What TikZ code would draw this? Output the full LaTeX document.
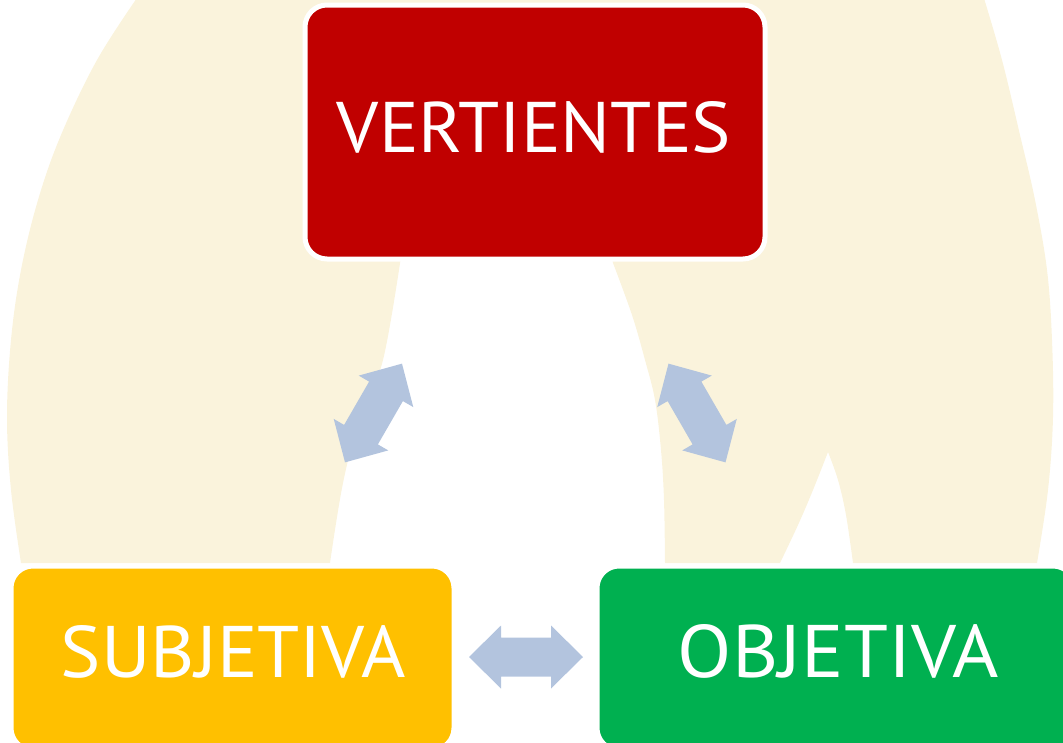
\documentclass[tikz,border=0pt]{standalone}
\usepackage{fontspec}
\setmainfont{PT Sans}
\usepackage{graphicx}
\definecolor{cream}{RGB}{250,243,220}
\definecolor{vred}{RGB}{192,0,0}
\definecolor{vyellow}{RGB}{255,192,0}
\definecolor{vgreen}{RGB}{0,176,80}
\definecolor{arrowc}{RGB}{179,196,222}
\begin{document}
\begin{tikzpicture}[x=1pt,y=-1pt,
  box/.style={rectangle, rounded corners=22pt, draw=white, line width=5pt, inner sep=0pt},
  lbl/.style={inner sep=0pt, text=white},
  blockarrow/.style={fill=arrowc}]
\useasboundingbox (0,0) rectangle (1063,742);
\clip (0,0) rectangle (1063,742);
% background circular band
\fill[cream] (139,-5)
  -- plot[smooth,tension=0.6] coordinates {(139,-5) (97,60) (61,135) (38,200) (21,270) (11,340) (7,417) (11,490) (21,563)}
  -- (330,563)
  -- plot[smooth,tension=0.6] coordinates {(330,563) (343,483) (360,417) (383,360) (402,250)}
  -- (430,140) -- (590,140)
  -- plot[smooth,tension=0.6] coordinates {(613,263) (632,315) (645,360) (655,400) (661,450) (664,500) (665,563)}
  -- (780,563)
  -- plot[smooth,tension=0.6] coordinates {(780,563) (798,525) (813,490) (828,452)}
  -- plot[smooth,tension=0.6] coordinates {(828,452) (838,480) (846,515) (853,563)}
  -- (1037,563)
  -- plot[smooth,tension=0.6] coordinates {(1037,563) (1048,490) (1053,417) (1052,340) (1047,270) (1035,200) (1020,135) (1002,60) (983,-5)}
  -- cycle;
% boxes
\node[box, fill=vred, minimum width=460pt, minimum height=254pt] (vbox) at (535,132) {};
\node[box, fill=vyellow, minimum width=443pt, minimum height=184pt] (sbox) at (232.5,658) {};
\node[box, fill=vgreen, minimum width=478pt, minimum height=184pt] (obox) at (836,658) {};
% labels
\node[lbl] (vtext) at (534,127.5) {\resizebox{394pt}{51pt}{VERTIENTES}};
\node[lbl] (stext) at (233.5,652) {\resizebox{345pt}{52pt}{SUBJETIVA}};
\node[lbl] (otext) at (838.5,651.5) {\resizebox{321pt}{53pt}{OBJETIVA}};
% double block arrows
\foreach \cx/\cy/\ang in {373.5/413/60, 697/413/-60, 526/657/0}{
  \begin{scope}[shift={(\cx,\cy)}, rotate=\ang]
    \fill[blockarrow] (-57,0) -- (-25,31.5) -- (-25,19.5) -- (25,19.5) -- (25,31.5)
      -- (57,0) -- (25,-31.5) -- (25,-19.5) -- (-25,-19.5) -- (-25,-31.5) -- cycle;
  \end{scope}
}
\end{tikzpicture}
\end{document}
